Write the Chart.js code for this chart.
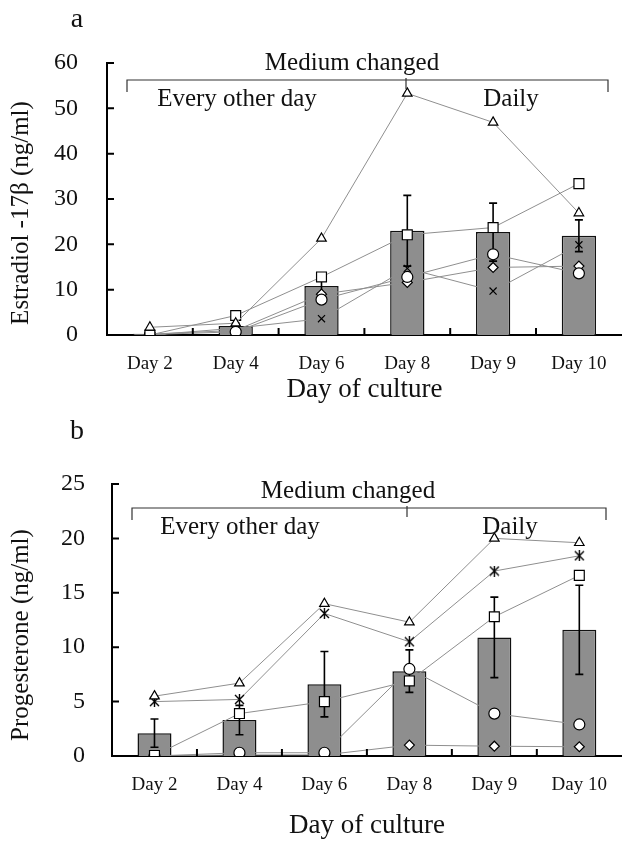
<!DOCTYPE html>
<html>
<head>
<meta charset="utf-8">
<script src="https://cdn.jsdelivr.net/npm/chart.js@4.4.1/dist/chart.umd.min.js"></script>
<style>
  html, body { margin: 0; padding: 0; background: #fff; }
  .panel { position: relative; width: 630px; }
</style>
</head>
<body>
<div class="panel" style="height:410px"><canvas id="chartA"></canvas></div>
<div class="panel" style="height:439px"><canvas id="chartB"></canvas></div>
<script>
const days = ['Day 2', 'Day 4', 'Day 6', 'Day 8', 'Day 9', 'Day 10'];

// a: estradiol-17β (ng/ml), mean ± error and five single cultures
const e2Mean = [0.3, 2.0, 10.8, 23.0, 22.7, 21.9];
const e2Err = [0.2, 0.6, 1.5, 7.8, 6.4, 3.5];
const e2Tri = [1.7, 2.6, 21.3, 53.3, 46.9, 26.9];
const e2Sq = [0.0, 4.3, 12.8, 22.1, 23.7, 33.4];
const e2Circ = [0.1, 0.7, 7.8, 12.8, 17.8, 13.6];
const e2Diam = [0.2, 1.0, 9.0, 11.6, 14.9, 15.2];
const e2Cross = [0.0, 1.5, 3.6, 14.7, 9.7, 19.9];

// b: progesterone (ng/ml)
const p4Mean = [2.1, 3.3, 6.6, 7.8, 10.9, 11.6];
const p4Err = [1.3, 1.35, 3.0, 1.95, 3.7, 4.1];
const p4Tri = [5.5, 6.7, 14.0, 12.3, 20.0, 19.6];
const p4Star = [5.0, 5.2, 13.1, 10.5, 17.0, 18.4];
const p4Sq = [0.05, 3.9, 5.0, 6.9, 12.8, 16.6];
const p4Circ = [0.0, 0.3, 0.3, 8.0, 3.9, 2.9];
const p4Diam = [0.0, 0.1, 0.1, 1.0, 0.9, 0.85];

const serif = "'Liberation Serif', 'Times New Roman', serif";

// excel-like asterisk marker (x plus vertical stroke)
function asterisk(size) {
    const c = document.createElement('canvas');
    c.width = size; c.height = size;
    const g = c.getContext('2d');
    g.strokeStyle = '#000';
    g.lineWidth = 1.4;
    g.beginPath();
    g.moveTo(1, 1); g.lineTo(size - 1, size - 1);
    g.moveTo(size - 1, 1); g.lineTo(1, size - 1);
    g.moveTo(size / 2, 0); g.lineTo(size / 2, size);
    g.stroke();
    return c;
}

function sample(data, style, radius) {
    return {
        type: 'line',
        data: data,
        borderColor: '#8f8f8f',
        borderWidth: 1,
        pointStyle: style,
        pointRadius: radius,
        pointBackgroundColor: '#fff',
        pointBorderColor: '#000',
        pointBorderWidth: 1.2,
        order: 0
    };
}

const decor = {
    id: 'decor',
    afterDatasetDraw(chart, args, opts) {
        if (args.index !== 0) return;
        const ctx = chart.ctx;
        const y = chart.scales.y;
        const bars = chart.getDatasetMeta(0).data;
        ctx.save();
        ctx.strokeStyle = '#000';
        ctx.lineWidth = 1.6;
        opts.errors.forEach((e, i) => {
            const m = chart.data.datasets[0].data[i];
            const px = bars[i].x;
            const top = y.getPixelForValue(m + e);
            const bot = y.getPixelForValue(Math.max(0, m - e));
            ctx.beginPath();
            ctx.moveTo(px, top); ctx.lineTo(px, bot);
            ctx.moveTo(px - 4, top); ctx.lineTo(px + 4, top);
            ctx.moveTo(px - 4, bot); ctx.lineTo(px + 4, bot);
            ctx.stroke();
        });
        ctx.restore();
    },
    afterDraw(chart, args, opts) {
        const ctx = chart.ctx;
        const a = chart.chartArea;
        const x = chart.scales.x, y = chart.scales.y;
        ctx.save();
        // inward ticks
        ctx.strokeStyle = '#000';
        ctx.lineWidth = 2;
        ctx.beginPath();
        y.ticks.forEach((t, i) => {
            if (t.value === 0) return;
            const py = y.getPixelForTick(i);
            ctx.moveTo(a.left, py); ctx.lineTo(a.left + 7, py);
        });
        for (let i = 1; i < days.length; i++) {
            const px = (x.getPixelForTick(i - 1) + x.getPixelForTick(i)) / 2;
            ctx.moveTo(px, a.bottom); ctx.lineTo(px, a.bottom - 7);
        }
        ctx.stroke();

        // "Medium changed" bracket
        const b = opts.bracket;
        ctx.strokeStyle = '#333';
        ctx.lineWidth = 1.2;
        ctx.beginPath();
        ctx.moveTo(b.x0, b.y + 12); ctx.lineTo(b.x0, b.y); ctx.lineTo(b.x1, b.y); ctx.lineTo(b.x1, b.y + 12);
        ctx.moveTo(b.xm, b.y - 2); ctx.lineTo(b.xm, b.y + 9);
        ctx.stroke();

        ctx.fillStyle = '#111';
        ctx.textAlign = 'center';
        ctx.textBaseline = 'middle';
        ctx.font = '25px ' + serif;
        ctx.fillText('Medium changed', b.xt, b.y - 17);
        ctx.fillText('Every other day', b.xe, b.y + 19);
        ctx.fillText('Daily', b.xd, b.y + 19);

        // panel letter
        ctx.font = '28px ' + serif;
        ctx.fillText(opts.letter, 77, opts.letterY);

        // axis titles
        ctx.font = '27px ' + serif;
        ctx.fillText('Day of culture', (a.left + a.right) / 2, opts.xTitleY);
        ctx.font = '25px ' + serif;
        ctx.translate(21, opts.yTitleY);
        ctx.rotate(-Math.PI / 2);
        ctx.fillText(opts.yTitle, 0, 0);
        ctx.restore();
    }
};

function makeChart(id, mean, err, lines, p) {
    return new Chart(document.getElementById(id), {
        type: 'bar',
        data: {
            labels: days,
            datasets: [{
                type: 'bar',
                data: mean,
                backgroundColor: '#8e8e8e',
                borderColor: '#111',
                borderWidth: 1.5,
                barPercentage: 0.4,
                categoryPercentage: 1,
                order: 1
            }].concat(lines)
        },
        options: {
            responsive: true,
            maintainAspectRatio: false,
            animation: false,
            layout: { padding: { top: p.top, right: p.right, left: 0, bottom: 0 } },
            plugins: {
                legend: { display: false },
                tooltip: { enabled: false },
                decor: p.decor
            },
            scales: {
                x: {
                    grid: { display: false, drawTicks: false },
                    border: { color: '#000', width: 2 },
                    ticks: { color: '#111', padding: 18, font: { family: serif, size: 19 } },
                    afterFit: s => { s.height = p.xh; }
                },
                y: {
                    min: 0, max: p.max,
                    grid: { display: false, drawTicks: false },
                    border: { color: '#000', width: 2 },
                    ticks: { stepSize: p.step, color: '#111', padding: p.tickPad, font: { family: serif, size: 24 } },
                    afterFit: s => { s.width = p.left; }
                }
            }
        },
        plugins: [decor]
    });
}

makeChart('chartA', e2Mean, e2Err, [
    sample(e2Tri, 'triangle', 5.5),
    sample(e2Sq, 'rect', 7),
    sample(e2Circ, 'circle', 5.5),
    sample(e2Diam, 'rectRot', 5),
    sample(e2Cross, 'crossRot', 5)
], {
    top: 63, right: 5, left: 107, xh: 75, max: 60, step: 10, tickPad: 29,
    decor: {
        errors: e2Err, letter: 'a', letterY: 20, xTitleY: 390, yTitleY: 213,
        yTitle: 'Estradiol -17\u03B2 (ng/ml)',
        bracket: { x0: 127, x1: 608, xm: 406, y: 80, xt: 352, xe: 237, xd: 511 }
    }
});

makeChart('chartB', p4Mean, p4Err, [
    sample(p4Tri, 'triangle', 5.5),
    sample(p4Star, asterisk(11), 5),
    sample(p4Sq, 'rect', 7),
    sample(p4Circ, 'circle', 5.5),
    sample(p4Diam, 'rectRot', 5)
], {
    top: 74, right: 2, left: 112, xh: 93, max: 25, step: 5, tickPad: 27,
    decor: {
        errors: p4Err, letter: 'b', letterY: 22, xTitleY: 416, yTitleY: 225,
        yTitle: 'Progesterone (ng/ml)',
        bracket: { x0: 132, x1: 606, xm: 407, y: 98, xt: 348, xe: 240, xd: 510 }
    }
});
</script>
</body>
</html>
